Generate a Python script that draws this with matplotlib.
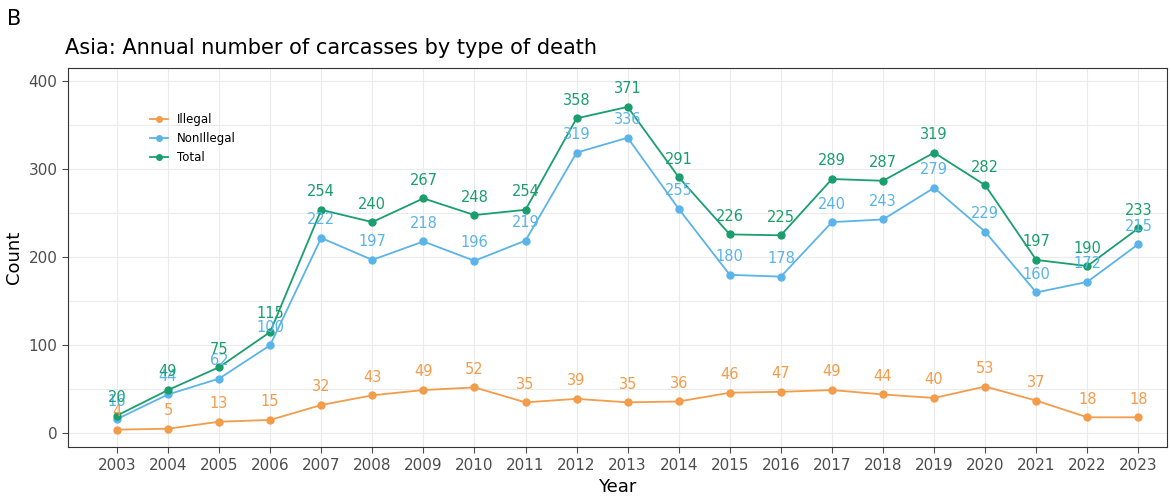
import matplotlib
matplotlib.use("Agg")
import matplotlib.pyplot as plt

years = list(range(2003, 2024))
illegal = [4, 5, 13, 15, 32, 43, 49, 52, 35, 39, 35, 36, 46, 47, 49, 44, 40, 53, 37, 18, 18]
nonillegal = [16, 44, 62, 100, 222, 197, 218, 196, 219, 319, 336, 255, 180, 178, 240, 243, 279, 229, 160, 172, 215]
total = [20, 49, 75, 115, 254, 240, 267, 248, 254, 358, 371, 291, 226, 225, 289, 287, 319, 282, 197, 190, 233]

c_ill = '#F39C4A'
c_non = '#5AB4EA'
c_tot = '#1A9E6E'

fig = plt.figure(figsize=(11.71, 4.98), dpi=100)
ax = fig.add_axes([0.058, 0.102, 0.939, 0.761])

for vals, col, lab in [(illegal, c_ill, 'Illegal'), (nonillegal, c_non, 'NonIllegal'), (total, c_tot, 'Total')]:
    ax.plot(years, vals, color=col, lw=1.3, marker='o', ms=5, label=lab)
    for x, v in zip(years, vals):
        ax.text(x, v + 12, str(v), color=col, ha='center', va='bottom', fontsize=10.5)

ax.set_xlim(2002.04, 2023.57)
ax.set_ylim(-16, 415)
ax.set_xticks(years)
ax.set_yticks([0, 100, 200, 300, 400])
ax.set_yticks([50, 150, 250, 350], minor=True)
ax.grid(True, which='both', color='#EBEBEB', lw=0.8)
ax.set_axisbelow(True)
for s in ax.spines.values():
    s.set_color('#333333')
ax.tick_params(labelsize=11, colors='#4D4D4D', length=4)
ax.tick_params(which='minor', length=0)
ax.set_xlabel('Year', fontsize=13)
ax.set_ylabel('Count', fontsize=13)
ax.set_title('Asia: Annual number of carcasses by type of death', fontsize=15, loc='left', x=-0.003, pad=10)
fig.text(0.006, 0.95, 'B', fontsize=15)
ax.legend(loc='upper left', bbox_to_anchor=(0.065, 0.91), frameon=False, fontsize=8.5,
          handlelength=1.5, markerscale=0.8)

fig.savefig('out.png')
